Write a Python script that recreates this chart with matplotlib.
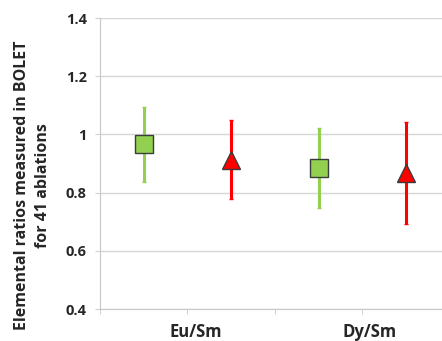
import matplotlib.pyplot as plt

# ratios and spread for each element pair, two measurement series
pairs = ['Eu/Sm', 'Dy/Sm']
green_mean = [0.966, 0.886]
green_err = [0.13, 0.138]
red_mean = [0.914, 0.868]
red_err = [0.137, 0.176]

plt.rcParams['font.family'] = ['Open Sans', 'DejaVu Sans']

fig = plt.figure(figsize=(4.42, 3.41), dpi=100)
ax = fig.add_axes([0.2262, 0.0938, 0.7738, 0.853])

# four category slots: green then red for each pair
green_x = [0.5, 2.5]
red_x = [1.5, 3.5]

ax.errorbar(green_x, green_mean, yerr=green_err, fmt='s', color='#92D050',
            ecolor='#92D050', elinewidth=2.2, capsize=1.6, capthick=2.2,
            markersize=13, markeredgecolor='#3b3b3b', markeredgewidth=1,
            zorder=3)
ax.errorbar(red_x, red_mean, yerr=red_err, fmt='^', color='#FF0000',
            ecolor='#FF0000', elinewidth=2.2, capsize=1.6, capthick=2.2,
            markersize=13, markeredgecolor='#3b3b3b', markeredgewidth=1,
            zorder=3)

ax.set_ylim(0.4, 1.4)
ax.set_xlim(0, 3.91)
ax.set_yticks([0.4, 0.6, 0.8, 1.0, 1.2, 1.4])
ax.set_yticklabels(['0.4', '0.6', '0.8', '1', '1.2', '1.4'])

# category boundaries get the tick marks, pair names sit a bit right of them
ax.set_xticks([0, 1, 2, 3], minor=True)
ax.set_xticks([1.09, 3.08])
ax.set_xticklabels(pairs)
ax.tick_params(axis='x', which='minor', length=3.5, color='#c8c8c8')
ax.tick_params(axis='x', which='major', length=0, pad=10)
ax.tick_params(axis='y', length=3.5, color='#d0d0d0', pad=6)
for lab in ax.get_xticklabels():
    lab.set_fontsize(12)
    lab.set_fontweight('bold')
    lab.set_color('#262626')
for lab in ax.get_yticklabels():
    lab.set_fontsize(10.5)
    lab.set_fontweight('bold')
    lab.set_color('#262626')

ax.grid(axis='y', color='#d6d6d6', linewidth=1)
ax.set_axisbelow(True)
for side in ['top', 'right']:
    ax.spines[side].set_visible(False)
ax.spines['left'].set_color('#c8c8c8')
ax.spines['bottom'].set_color('#c8c8c8')

fig.text(0.074, 0.456, 'Elemental ratios measured in BOLET\nfor 41 ablations',
         rotation=90, ha='center', va='center', fontsize=11.5,
         fontweight='bold', color='#262626', linespacing=1.45)

plt.savefig('out.png', dpi=100)
